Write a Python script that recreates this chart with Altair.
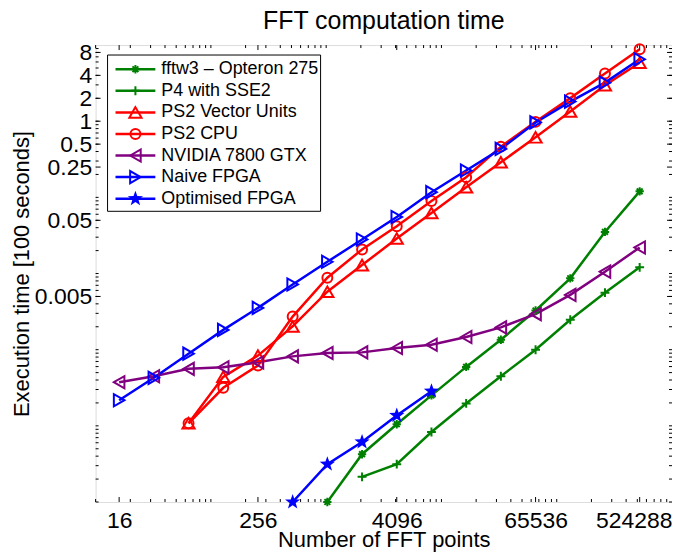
import altair as alt
import pandas as pd

FONT = "Liberation Sans"

series_names = ["fftw3 – Opteron 275", "P4 with SSE2", "PS2 Vector Units", "PS2 CPU",
                "NVIDIA 7800 GTX", "Naive FPGA", "Optimised FPGA"]
series_colors = ["#008000", "#008000", "#FF0000", "#FF0000", "#800080", "#0000FF", "#0000FF"]

ASTERISK = "M-1,0L1,0M0,-1L0,1M-0.7,-0.7L0.7,0.7M-0.7,0.7L0.7,-0.7"
PLUS = "M-1,0L1,0M0,-1L0,1"
STAR = ("M0,-1L0.235,-0.324L0.951,-0.309L0.380,0.124L0.588,0.809L0,0.4"
        "L-0.588,0.809L-0.380,0.124L-0.951,-0.309L-0.235,-0.324Z")
marker_shapes = [ASTERISK, PLUS, "triangle-up", "circle", "triangle-left", "triangle-right", STAR]
marker_sizes = [70, 80, 150, 100, 150, 150, 260]
marker_filled = [False, False, False, False, False, False, True]

# FFT sizes (number of points) and execution times [100 seconds]
fftw3_n = [1024, 2048, 4096, 8192, 16384, 32768, 65536, 131072, 262144, 524288]
fftw3_t = [1.0e-5, 4.24e-5, 1.05e-4, 2.51e-4, 5.94e-4, 1.35e-3, 3.27e-3, 8.65e-3, 0.0352, 0.120]

p4_n = [2048, 4096, 8192, 16384, 32768, 65536, 131072, 262144, 524288]
p4_t = [2.14e-5, 3.14e-5, 8.30e-5, 1.97e-4, 4.48e-4, 1.0e-3, 2.47e-3, 5.61e-3, 0.01205]

ps2vu_n = [64, 128, 256, 512, 1024, 2048, 4096, 8192, 16384, 32768, 65536, 131072, 262144, 524288]
ps2vu_t = [1.08e-4, 4.40e-4, 8.36e-4, 2.02e-3, 5.78e-3, 0.0129, 0.0288, 0.0624, 0.136, 0.289,
           0.614, 1.34, 2.97, 5.87]

ps2cpu_n = [64, 128, 256, 512, 1024, 2048, 4096, 8192, 16384, 32768, 65536, 131072, 262144, 524288]
ps2cpu_t = [1.08e-4, 3.16e-4, 6.18e-4, 2.72e-3, 8.81e-3, 0.0207, 0.0418, 0.0895, 0.184, 0.464,
            0.98, 2.01, 4.22, 8.79]

nvidia_n = [16, 32, 64, 128, 256, 512, 1024, 2048, 4096, 8192, 16384, 32768, 65536, 131072,
            262144, 524288]
nvidia_t = [3.74e-4, 4.48e-4, 5.60e-4, 5.87e-4, 6.82e-4, 8.17e-4, 9.05e-4, 9.22e-4, 1.052e-3,
            1.162e-3, 1.466e-3, 1.96e-3, 2.93e-3, 5.24e-3, 0.01057, 0.0220]

naive_n = [16, 32, 64, 128, 256, 512, 1024, 2048, 4096, 8192, 16384, 32768, 65536, 131072,
           262144, 524288]
naive_t = [2.17e-4, 4.27e-4, 8.87e-4, 1.82e-3, 3.54e-3, 7.18e-3, 0.01426, 0.0280, 0.0553, 0.117,
           0.225, 0.433, 0.964, 1.81, 3.21, 6.50]

opt_n = [512, 1024, 2048, 4096, 8192]
opt_t = [1.0e-5, 3.14e-5, 6.14e-5, 1.37e-4, 2.85e-4]

series_n = [fftw3_n, p4_n, ps2vu_n, ps2cpu_n, nvidia_n, naive_n, opt_n]
series_t = [fftw3_t, p4_t, ps2vu_t, ps2cpu_t, nvidia_t, naive_t, opt_t]

x_tick_labels = [16, 256, 4096, 65536, 524288]
y_tick_labels = [0.005, 0.05, 0.25, 0.5, 1, 2, 4, 8]
x_minor = [m * 10 ** e for e in range(1, 6) for m in range(1, 10)]
y_minor = [m * 10.0 ** e for e in range(-5, 1) for m in range(1, 10)]

W, H = 579, 459

rows = []
for name, ns, ts in zip(series_names, series_n, series_t):
    for n, t in zip(ns, ts):
        rows.append({"series": name, "n": n, "t": t})
df = pd.DataFrame(rows)

xscale = alt.Scale(type="log", domain=[10, 1e6], nice=False)
yscale = alt.Scale(type="log", domain=[1e-5, 10], nice=False)
color_scale = alt.Scale(domain=series_names, range=series_colors)

x_axis = alt.Axis(values=x_tick_labels, format="~g", title="Number of FFT points",
                  labelPadding=8, titlePadding=-3, tickSize=0, ticks=False, domain=False, grid=False,
                  labelFontSize=23, titleFontSize=22, labelFont=FONT, titleFont=FONT,
                  titleFontWeight="normal", labelColor="black", titleColor="black",
                  labelFlush=False, labelOverlap=False,
                  labelOffset={"condition": {"test": "datum.value > 400000", "value": -6},
                               "value": 0})
y_axis = alt.Axis(values=y_tick_labels, format="~g", title="Execution time [100 seconds]",
                  labelPadding=4, titlePadding=1, tickSize=0, ticks=False, domain=False, grid=False,
                  labelFontSize=23, titleFontSize=22, labelFont=FONT, titleFont=FONT,
                  titleFontWeight="normal", labelColor="black", titleColor="black",
                  labelFlush=False, labelOverlap=False)

lines = alt.Chart(df).mark_line(strokeWidth=2.5, clip=True).encode(
    x=alt.X("n:Q", scale=xscale, axis=x_axis),
    y=alt.Y("t:Q", scale=yscale, axis=y_axis),
    color=alt.Color("series:N", scale=color_scale, legend=None),
    detail="series:N",
    order="n:Q",
)

point_layers = []
for name, col, shp, sz, fl in zip(series_names, series_colors, marker_shapes, marker_sizes, marker_filled):
    sub = df[df["series"] == name]
    point_layers.append(
        alt.Chart(sub).mark_point(shape=shp, size=sz, filled=fl, color=col, strokeWidth=2,
                                  opacity=1).encode(
            x=alt.X("n:Q", scale=xscale),
            y=alt.Y("t:Q", scale=yscale),
        )
    )

def x_ticks(vals, L):
    d = pd.DataFrame({"n": vals})
    b = alt.Chart(d).mark_rule(color="black", strokeWidth=1).encode(
        x=alt.X("n:Q", scale=xscale), y=alt.value(H), y2=alt.value(H - L))
    t = alt.Chart(d).mark_rule(color="black", strokeWidth=1).encode(
        x=alt.X("n:Q", scale=xscale), y=alt.value(0), y2=alt.value(L))
    return [b, t]

def y_ticks(vals, L):
    d = pd.DataFrame({"t": vals})
    lft = alt.Chart(d).mark_rule(color="black", strokeWidth=1).encode(
        y=alt.Y("t:Q", scale=yscale), x=alt.value(0), x2=alt.value(L))
    rgt = alt.Chart(d).mark_rule(color="black", strokeWidth=1).encode(
        y=alt.Y("t:Q", scale=yscale), x=alt.value(W), x2=alt.value(W - L))
    return [lft, rgt]

tick_layers = x_ticks(x_tick_labels, 5) + x_ticks(x_minor, 3) + y_ticks(y_tick_labels, 5) + y_ticks(y_minor, 3)

# Legend (inside plot, top-left): rows laid out top to bottom
LEG_TOP, LEG_STEP = 24.3, 21.67
one = pd.DataFrame({"a": [0]})
legend_layers = [
    alt.Chart(one).mark_rect(fill="white", stroke="black", strokeWidth=1).encode(
        x=alt.value(12), x2=alt.value(226), y=alt.value(10), y2=alt.value(167))
]
for i, (name, col, shp, sz, fl) in enumerate(zip(series_names, series_colors, marker_shapes,
                                                 marker_sizes, marker_filled)):
    yy = LEG_TOP + i * LEG_STEP
    legend_layers.append(alt.Chart(one).mark_rule(strokeWidth=2.5, color=col).encode(
        x=alt.value(20), x2=alt.value(60), y=alt.value(yy)))
    legend_layers.append(alt.Chart(one).mark_point(shape=shp, size=sz, filled=fl, color=col,
                                                  strokeWidth=2, opacity=1).encode(
        x=alt.value(40), y=alt.value(yy)))
    legend_layers.append(alt.Chart(one).mark_text(align="left", baseline="middle", fontSize=18,
                                                 font=FONT, color="black").encode(
        x=alt.value(66), y=alt.value(yy), text=alt.value(name)))

chart = alt.layer(lines, *tick_layers, *point_layers, *legend_layers).properties(
    width=W, height=H,
    autosize=alt.AutoSizeParams(type="none"),
    padding={"left": 88, "top": 36, "right": 0, "bottom": 49},
    title=alt.Title("FFT computation time", fontSize=25, font=FONT, fontWeight="normal",
                    color="black", offset=6),
).configure_view(stroke="black", strokeWidth=1).configure(background="white")

chart.save("out.html", embed_options={"renderer": "svg", "actions": False})
